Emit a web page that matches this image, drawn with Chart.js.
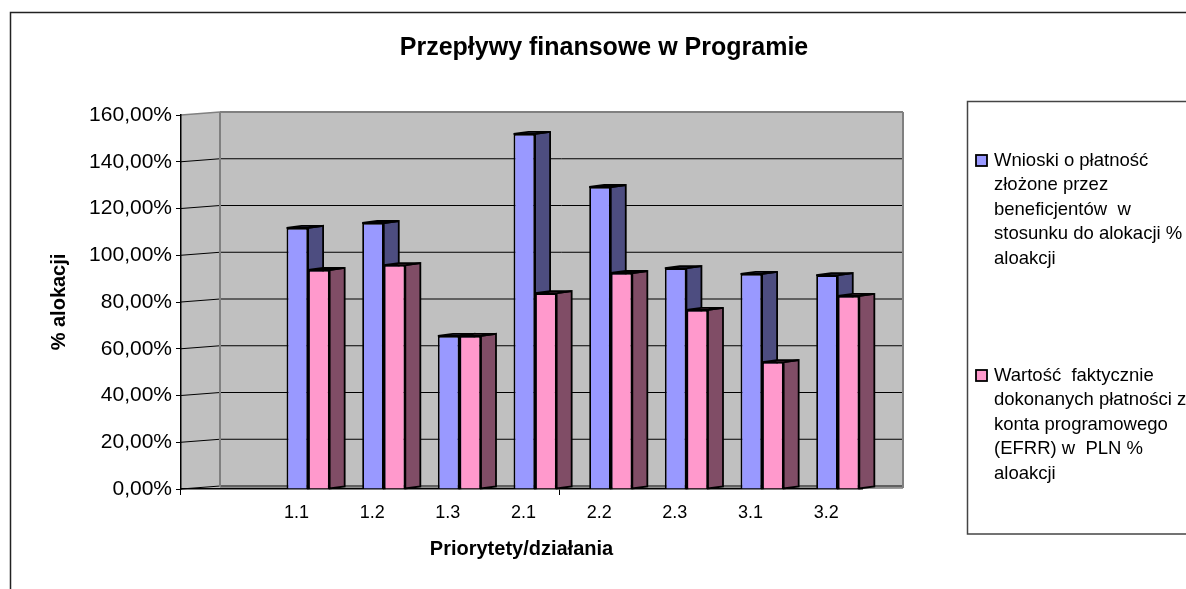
<!DOCTYPE html>
<html>
<head>
<meta charset="utf-8">
<title>Przepływy finansowe w Programie</title>
<script src="https://cdn.jsdelivr.net/npm/chart.js@4/dist/chart.umd.min.js"></script>
<style>
  html, body { margin: 0; padding: 0; background: #fff; overflow: hidden; }
  canvas { display: block; }
</style>
</head>
<body>
<canvas id="chart" width="1186" height="589"></canvas>
<script>
const FONT = '"Liberation Sans", Arial, sans-serif';

// first category is empty in the original sheet
const categories = ['', '1.1', '1.2', '1.3', '2.1', '2.2', '2.3', '3.1', '3.2'];
const wnioski = [null, 111.7, 113.8, 65.5, 151.9, 129.2, 94.5, 92, 91.5];
const platnosci = [null, 93.7, 95.8, 65.5, 83.8, 92.4, 76.6, 54.3, 82.6];
const yTickLabels = ['0,00%', '20,00%', '40,00%', '60,00%', '80,00%', '100,00%', '120,00%', '140,00%', '160,00%'];

const wnioskiLegend = ['Wnioski o płatność', 'złożone przez', 'beneficjentów  w', 'stosunku do alokacji %', 'aloakcji'];
const platnosciLegend = ['Wartość  faktycznie', 'dokonanych płatności z', 'konta programowego', '(EFRR) w  PLN %', 'aloakcji'];

const blue = '#9999FF', blueSide = '#4D4D80';
const pink = '#FF99CC', pinkSide = '#804D66';
const wall = '#C0C0C0', wallLine = '#808080';

const wallDx = 39, wallDy = 3;   // back wall offset from the front axes
const barShiftX = 13.6;          // bars stand in the middle of the floor
const barDx = 15, barDy = 2;     // depth of one bar

function line(ctx, x1, y1, x2, y2, color, width) {
  ctx.strokeStyle = color;
  ctx.lineWidth = width;
  ctx.beginPath();
  ctx.moveTo(x1, y1);
  ctx.lineTo(x2, y2);
  ctx.stroke();
}

function poly(ctx, pts, fill) {
  ctx.beginPath();
  pts.forEach((p, i) => i ? ctx.lineTo(p[0], p[1]) : ctx.moveTo(p[0], p[1]));
  ctx.closePath();
  ctx.fillStyle = fill;
  ctx.fill();
  ctx.strokeStyle = '#000';
  ctx.lineWidth = 1.8;
  ctx.stroke();
}

function drawFaces(chart, index, side) {
  const ctx = chart.ctx;
  chart.getDatasetMeta(index).data.forEach((bar, i) => {
    if (chart.data.datasets[index].data[i] === null) return;
    const r = bar.x + bar.width / 2, l = bar.x - bar.width / 2;
    poly(ctx, [[r, bar.y], [r + barDx, bar.y - barDy], [r + barDx, bar.base - barDy], [r, bar.base]], side);
    poly(ctx, [[l, bar.y], [l + barDx, bar.y - barDy], [r + barDx, bar.y - barDy], [r, bar.y]], side);
  });
}

const walls3d = {
  id: 'walls3d',
  afterLayout(chart) {
    // title is centred over the whole frame, not the plot
    chart.titleBlock.left = 22;
    chart.titleBlock.right = 1186;
  },
  beforeDraw(chart) {
    const ctx = chart.ctx;
    const { left, right, top, bottom } = chart.chartArea;
    const y = chart.scales.y;
    const backRight = right + 41;

    ctx.save();
    // outer frame runs off the picture
    ctx.strokeStyle = '#222';
    ctx.lineWidth = 1.5;
    ctx.strokeRect(10.5, 12.5, 1400, 800);

    // side wall, back wall, floor
    ctx.fillStyle = wall;
    ctx.beginPath();
    ctx.moveTo(left, top);
    ctx.lineTo(left + wallDx, top - wallDy);
    ctx.lineTo(backRight, top - wallDy);
    ctx.lineTo(backRight, bottom - 1);
    ctx.lineTo(right, bottom);
    ctx.lineTo(left, bottom);
    ctx.closePath();
    ctx.fill();

    yTickLabels.forEach((_, i) => {
      const py = y.getPixelForValue(i * 20);
      if (i === 8) return;
      line(ctx, left, py, left + wallDx, py - wallDy, '#000', 1);
      line(ctx, left + wallDx, py - wallDy, backRight, py - wallDy, '#000', 1);
    });

    line(ctx, left, top, left + wallDx, top - wallDy, wallLine, 1.5);
    line(ctx, left + wallDx, top - wallDy, backRight, top - wallDy, wallLine, 2);
    line(ctx, left + wallDx, top - wallDy, left + wallDx, bottom - 2, wallLine, 2);
    line(ctx, backRight, top - wallDy, backRight, bottom - 1, wallLine, 2);
    line(ctx, left + wallDx, bottom - 1, backRight, bottom - 1, wallLine, 1.5);
    ctx.restore();
  },
  beforeDatasetsDraw(chart) {
    const ctx = chart.ctx;
    ctx.save();
    ctx.translate(barShiftX, 0);
    // side and top faces go under the front faces the library draws next
    drawFaces(chart, 0, blueSide);
    drawFaces(chart, 1, pinkSide);
  },
  afterDatasetsDraw(chart) {
    chart.ctx.restore();
  },
  afterDraw(chart) {
    const ctx = chart.ctx;
    ctx.save();
    // legend box is cut by the right edge of the picture
    ctx.strokeStyle = '#444';
    ctx.lineWidth = 1.5;
    ctx.strokeRect(967.5, 101.5, 400, 432.5);

    ctx.font = '18.5px ' + FONT;
    ctx.textBaseline = 'middle';
    const drawEntry = (lines, color, startY) => {
      ctx.fillStyle = color;
      ctx.strokeStyle = '#000';
      ctx.lineWidth = 1.8;
      ctx.fillRect(976, startY - 5, 11, 11);
      ctx.strokeRect(976, startY - 5, 11, 11);
      ctx.fillStyle = '#000';
      lines.forEach((t, i) => ctx.fillText(t, 994, startY + 1 + i * 24.4));
    };
    drawEntry(wnioskiLegend, blue, 160);
    drawEntry(platnosciLegend, pink, 375);
    ctx.restore();
  }
};

new Chart(document.getElementById('chart'), {
  type: 'bar',
  data: {
    labels: categories,
    datasets: [
      { label: 'Wnioski o płatność złożone przez beneficjentów w stosunku do alokacji % aloakcji', data: wnioski, backgroundColor: blue },
      { label: 'Wartość faktycznie dokonanych płatności z konta programowego (EFRR) w PLN % aloakcji', data: platnosci, backgroundColor: pink }
    ]
  },
  options: {
    responsive: false,
    animation: false,
    layout: { padding: { left: 0, top: 0, bottom: 0, right: 324 } },
    datasets: {
      bar: { categoryPercentage: 0.57, barPercentage: 1, borderColor: '#000', borderWidth: 1.8, clip: false }
    },
    plugins: {
      legend: { display: false },
      tooltip: { enabled: false },
      title: {
        display: true,
        text: 'Przepływy finansowe w Programie',
        color: '#000',
        font: { family: FONT, size: 25, weight: 'bold' },
        padding: { top: 33.5, bottom: 51.5 }
      }
    },
    scales: {
      x: {
        afterFit: s => { s.height = 100; },
        border: { color: '#000', width: 1.5 },
        grid: {
          drawOnChartArea: false,
          tickLength: 6,
          tickColor: ctx => (ctx.index === 0 || ctx.index === 5) ? '#000' : 'transparent'
        },
        ticks: {
          autoSkip: false, maxRotation: 0, minRotation: 0, padding: 7, labelOffset: 2,
          color: '#000', font: { family: FONT, size: 18 }
        },
        title: {
          display: true, text: 'Priorytety/działania', color: '#000',
          font: { family: FONT, size: 20, weight: 'bold' },
          padding: { top: 0, bottom: 28 }
        }
      },
      y: {
        min: 0, max: 160,
        afterFit: s => { s.width = 181; },
        border: { color: '#000', width: 1.5 },
        grid: { drawOnChartArea: false, tickLength: 5, tickColor: '#000' },
        ticks: {
          stepSize: 20, padding: 4, color: '#000',
          font: { family: FONT, size: 21 },
          callback: (v, i) => yTickLabels[i]
        },
        title: {
          display: true, text: '% alokacji', color: '#000',
          font: { family: FONT, size: 20, weight: 'bold' },
          padding: { top: 47, bottom: 0 }
        }
      }
    }
  },
  plugins: [walls3d]
});
</script>
</body>
</html>
